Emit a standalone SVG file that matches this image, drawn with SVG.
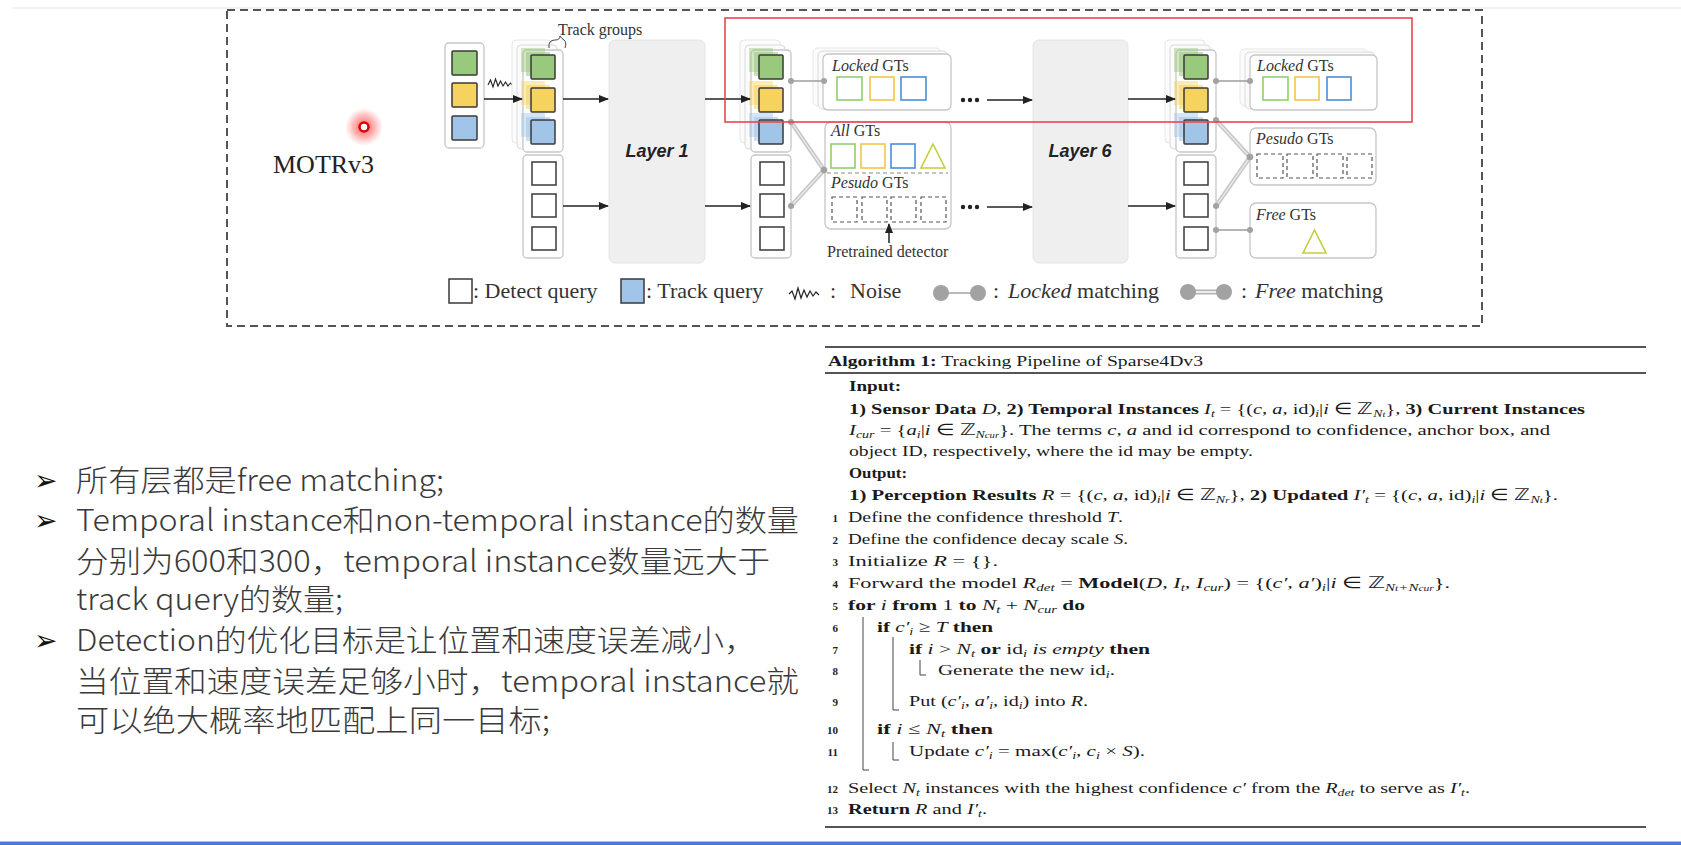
<svg xmlns="http://www.w3.org/2000/svg" width="1681" height="845" viewBox="0 0 1681 845">
<defs>
<style>
.lbl{font-family:"Liberation Serif","Times New Roman",serif;font-size:16px;fill:#333}
.leg{font-family:"Liberation Serif","Times New Roman",serif;font-size:22px;fill:#333}
.layer{font-family:"Liberation Sans",Arial,sans-serif;font-weight:bold;font-style:italic;font-size:18px;fill:#222;text-anchor:middle}
.box{fill:#fff;stroke:#c6c6c6;stroke-width:1.3}
.bk1{fill:#fbfbfb;stroke:#dadada;stroke-width:1}
.bk2{fill:#fcfcfc;stroke:#e6e6e6;stroke-width:1}
.sq{stroke:#3a3a3a;stroke-width:1.5}
.g{fill:#98c97c}.y{fill:#f6d25e}.bl{fill:#a0c5e8}
.det{fill:#fff;stroke:#3a3a3a;stroke-width:1.5}
.gto{fill:none;stroke-width:1.6}
.gg{stroke:#8fcf6e}.gy{stroke:#f4c545}.gb{stroke:#4a8fd8}
.ds{fill:none;stroke:#555;stroke-width:1.2;stroke-dasharray:4 3}
.arr{stroke:#222;stroke-width:1.5;fill:none;marker-end:url(#ah)}
.lk{stroke:#9c9c9c;stroke-width:1.3;fill:none}
.fr{stroke:#c9c9c9;stroke-width:4.5;fill:none}
.fri{stroke:#ececec;stroke-width:1.2;fill:none}
.dot{fill:#a2a2a2}
.layerbox{fill:#efefef;stroke:#e4e4e4;stroke-width:1}
.cn{font-family:"Noto Sans CJK SC","Noto Sans",sans-serif;font-weight:300;font-size:30px;fill:#3a3a3a}
.bul{font-family:"DejaVu Sans",sans-serif;font-size:28px;fill:#111}
.al{font-family:"Liberation Serif","Times New Roman",serif;font-size:15.5px;fill:#1a1a1a}
.b{font-weight:bold}
.i{font-style:italic}
.sub{font-size:10.5px;baseline-shift:-3px}
.num{font-family:"Liberation Serif",serif;font-size:11px;font-weight:bold;fill:#222;text-anchor:end}
.rule{stroke:#555;stroke-width:2}
.bar{stroke:#444;stroke-width:1;fill:none}
</style>
<marker id="ah" markerWidth="10" markerHeight="8" refX="9" refY="4" orient="auto" markerUnits="userSpaceOnUse"><path d="M0,0 L10,4 L0,8 z" fill="#222"/></marker>
<radialGradient id="glow"><stop offset="0" stop-color="#ff2020" stop-opacity="0.75"/><stop offset="0.6" stop-color="#ff4040" stop-opacity="0.35"/><stop offset="1" stop-color="#ff6060" stop-opacity="0"/></radialGradient>
</defs>
<rect width="1681" height="845" fill="#fff"/>
<line x1="12" y1="8" x2="1681" y2="8" stroke="#e4e4e4" stroke-width="1.2"/>
<rect x="0" y="842" width="1681" height="3" fill="#4a78e0"/>
<rect x="0" y="841" width="1681" height="1" fill="#a9c0f0"/>

<!-- outer dashed frame -->
<rect x="227" y="10" width="1255" height="316" fill="none" stroke="#555" stroke-width="2" stroke-dasharray="8 5"/>
<text x="273" y="173" font-family="Liberation Serif,serif" font-size="26" fill="#222">MOTRv3</text>
<g id="pointer"><circle cx="364" cy="127" r="19" fill="url(#glow)"/><circle cx="364" cy="127" r="4.5" fill="#fff" stroke="#e00000" stroke-width="2.6"/></g>

<!-- input queries -->
<g id="input-col">
<rect class="box" x="445" y="43" width="39" height="105" rx="4"/>
<rect class="sq g" x="452" y="51" width="25" height="24" rx="1"/>
<rect class="sq y" x="452" y="83" width="25" height="24" rx="1"/>
<rect class="sq bl" x="452" y="116" width="25" height="24" rx="1"/>
</g>
<path d="M488,85 l2.5,-5 l2.5,7 l2.5,-8 l2.5,7 l2.5,-5 l2.5,5 l2.5,-4 l2.5,4 l2.5,-3 l2.5,3" fill="none" stroke="#222" stroke-width="1.1"/>

<!-- column 1 -->
<g id="col1">
<rect class="bk2" x="512" y="40" width="40" height="103" rx="4"/>
<rect class="bk1" x="517" y="45" width="40" height="104" rx="4"/>
<rect class="box" x="523" y="50" width="40" height="102" rx="4"/>
<rect class="g" x="521" y="48" width="24" height="24" opacity="0.45"/><rect class="g" x="526" y="52" width="24" height="24" opacity="0.55"/>
<rect class="y" x="521" y="81" width="24" height="24" opacity="0.45"/><rect class="y" x="526" y="85" width="24" height="24" opacity="0.55"/>
<rect class="bl" x="521" y="113" width="24" height="24" opacity="0.45"/><rect class="bl" x="526" y="117" width="24" height="24" opacity="0.55"/>
<rect class="sq g" x="531" y="55" width="24" height="24" rx="1"/>
<rect class="sq y" x="531" y="88" width="24" height="24" rx="1"/>
<rect class="sq bl" x="531" y="120" width="24" height="24" rx="1"/>
<rect class="box" x="523" y="155" width="40" height="103" rx="4"/>
<rect class="det" x="532" y="162" width="24" height="23"/>
<rect class="det" x="532" y="194" width="24" height="23"/>
<rect class="det" x="532" y="227" width="24" height="23"/>
</g>
<text class="lbl" x="558" y="35">Track groups</text>
<path d="M549,48 q-1,-8 6,-8 q5,0 5,-4 q2,3 4,4 q3,2 1,8" fill="none" stroke="#444" stroke-width="1"/>

<g id="layer1"><rect class="layerbox" x="609" y="40" width="96" height="223" rx="6"/><text class="layer" x="657" y="157">Layer 1</text></g>

<!-- column 2 -->
<g id="col2">
<rect class="bk2" x="740" y="40" width="40" height="103" rx="4"/>
<rect class="bk1" x="745" y="45" width="40" height="104" rx="4"/>
<rect class="box" x="751" y="50" width="40" height="102" rx="4"/>
<rect class="g" x="749" y="48" width="24" height="24" opacity="0.45"/><rect class="g" x="754" y="52" width="24" height="24" opacity="0.55"/>
<rect class="y" x="749" y="81" width="24" height="24" opacity="0.45"/><rect class="y" x="754" y="85" width="24" height="24" opacity="0.55"/>
<rect class="bl" x="749" y="113" width="24" height="24" opacity="0.45"/><rect class="bl" x="754" y="117" width="24" height="24" opacity="0.55"/>
<rect class="sq g" x="759" y="55" width="24" height="24" rx="1"/>
<rect class="sq y" x="759" y="88" width="24" height="24" rx="1"/>
<rect class="sq bl" x="759" y="120" width="24" height="24" rx="1"/>
<rect class="box" x="751" y="155" width="40" height="103" rx="4"/>
<rect class="det" x="760" y="162" width="24" height="23"/>
<rect class="det" x="760" y="194" width="24" height="23"/>
<rect class="det" x="760" y="227" width="24" height="23"/>
</g>

<g id="locked-gts-1">
<rect class="bk2" x="813" y="48" width="128" height="58" rx="5"/>
<rect class="bk1" x="818" y="51" width="130" height="58" rx="5"/>
<rect class="box" x="823" y="54" width="128" height="56" rx="5"/>
<text class="lbl" x="832" y="71"><tspan class="i">Locked</tspan> GTs</text>
<rect class="gto gg" x="837" y="77" width="25" height="23"/>
<rect class="gto gy" x="870" y="77" width="24" height="23"/>
<rect class="gto gb" x="901" y="77" width="25" height="23"/>
</g>

<g id="all-gts">
<rect class="box" x="825" y="122" width="126" height="107" rx="6"/>
<text class="lbl" x="831" y="136"><tspan class="i">All</tspan> GTs</text>
<rect class="gto gg" x="831" y="144" width="24" height="24"/>
<rect class="gto gy" x="861" y="144" width="24" height="24"/>
<rect class="gto gb" x="891" y="144" width="24" height="24"/>
<path class="gto" d="M933,144 L945,168 L921,168 Z" stroke="#c6cc3e"/>
<line x1="827" y1="173" x2="948" y2="173" stroke="#888" stroke-width="1" stroke-dasharray="4 3"/>
<text class="lbl" x="831" y="188"><tspan class="i">Pesudo</tspan> GTs</text>
<rect class="ds" x="832" y="197" width="25" height="25"/>
<rect class="ds" x="862" y="197" width="25" height="25"/>
<rect class="ds" x="891" y="197" width="25" height="25"/>
<rect class="ds" x="921" y="197" width="25" height="25"/>
</g>
<text class="lbl" x="827" y="257">Pretrained detector</text>

<g id="layer6"><rect class="layerbox" x="1033" y="40" width="95" height="223" rx="6"/><text class="layer" x="1080" y="157">Layer 6</text></g>

<!-- column 3 -->
<g id="col3">
<rect class="bk2" x="1165" y="40" width="40" height="103" rx="4"/>
<rect class="bk1" x="1170" y="45" width="40" height="104" rx="4"/>
<rect class="box" x="1176" y="50" width="40" height="102" rx="4"/>
<rect class="g" x="1174" y="48" width="24" height="24" opacity="0.45"/><rect class="g" x="1179" y="52" width="24" height="24" opacity="0.55"/>
<rect class="y" x="1174" y="81" width="24" height="24" opacity="0.45"/><rect class="y" x="1179" y="85" width="24" height="24" opacity="0.55"/>
<rect class="bl" x="1174" y="113" width="24" height="24" opacity="0.45"/><rect class="bl" x="1179" y="117" width="24" height="24" opacity="0.55"/>
<rect class="sq g" x="1184" y="55" width="24" height="24" rx="1"/>
<rect class="sq y" x="1184" y="88" width="24" height="24" rx="1"/>
<rect class="sq bl" x="1184" y="120" width="24" height="24" rx="1"/>
<rect class="box" x="1176" y="155" width="40" height="103" rx="4"/>
<rect class="det" x="1184" y="162" width="24" height="23"/>
<rect class="det" x="1184" y="194" width="24" height="23"/>
<rect class="det" x="1184" y="227" width="24" height="23"/>
</g>

<g id="locked-gts-2">
<rect class="bk2" x="1240" y="49" width="128" height="57" rx="5"/>
<rect class="bk1" x="1245" y="52" width="130" height="57" rx="5"/>
<rect class="box" x="1250" y="55" width="127" height="55" rx="5"/>
<text class="lbl" x="1257" y="71"><tspan class="i">Locked</tspan> GTs</text>
<rect class="gto gg" x="1263" y="77" width="25" height="23"/>
<rect class="gto gy" x="1295" y="77" width="24" height="23"/>
<rect class="gto gb" x="1327" y="77" width="24" height="23"/>
</g>
<g id="pesudo-gts">
<rect class="box" x="1250" y="128" width="126" height="57" rx="6"/>
<text class="lbl" x="1256" y="144"><tspan class="i">Pesudo</tspan> GTs</text>
<rect class="ds" x="1257" y="154" width="26" height="24"/>
<rect class="ds" x="1287" y="154" width="26" height="24"/>
<rect class="ds" x="1317" y="154" width="26" height="24"/>
<rect class="ds" x="1347" y="154" width="25" height="24"/>
</g>
<g id="free-gts">
<rect class="box" x="1250" y="203" width="126" height="55" rx="6"/>
<text class="lbl" x="1256" y="220"><tspan class="i">Free</tspan> GTs</text>
<path class="gto" d="M1314.5,230 L1326,253 L1303,253 Z" stroke="#c6cc3e"/>
</g>

<!-- connectors -->
<g id="connectors">
<line class="arr" x1="484" y1="99" x2="522" y2="99"/>
<line class="arr" x1="563" y1="99" x2="608" y2="99"/>
<line class="arr" x1="563" y1="206" x2="608" y2="206"/>
<line class="arr" x1="705" y1="99" x2="750" y2="99"/>
<line class="arr" x1="705" y1="206" x2="750" y2="206"/>
<line class="arr" x1="987" y1="100" x2="1032" y2="100"/>
<line class="arr" x1="987" y1="207" x2="1032" y2="207"/>
<line class="arr" x1="1128" y1="99" x2="1175" y2="99"/>
<line class="arr" x1="1128" y1="206" x2="1175" y2="206"/>
<line class="arr" x1="889" y1="243" x2="889" y2="224"/>
<g fill="#222"><circle cx="963" cy="100" r="2.2"/><circle cx="970" cy="100" r="2.2"/><circle cx="977" cy="100" r="2.2"/><circle cx="963" cy="207" r="2.2"/><circle cx="970" cy="207" r="2.2"/><circle cx="977" cy="207" r="2.2"/></g>
<line class="lk" x1="791" y1="81" x2="824" y2="81"/>
<circle class="dot" cx="791" cy="81" r="3"/><circle class="dot" cx="824" cy="81" r="3"/>
<path class="fr" d="M791,122 L824,170 L791,206"/>
<path class="fri" d="M791,122 L824,170 L791,206"/>
<circle class="dot" cx="791" cy="122" r="3"/><circle class="dot" cx="824" cy="170" r="3.3"/><circle class="dot" cx="791" cy="206" r="3"/>
<line class="lk" x1="1216" y1="81" x2="1250" y2="81"/>
<circle class="dot" cx="1216" cy="81" r="3"/><circle class="dot" cx="1250" cy="81" r="3"/>
<path class="fr" d="M1216,120 L1250,157 L1216,206"/>
<path class="fri" d="M1216,120 L1250,157 L1216,206"/>
<circle class="dot" cx="1216" cy="120" r="3"/><circle class="dot" cx="1250" cy="157" r="3.3"/><circle class="dot" cx="1216" cy="206" r="3"/>
<line class="lk" x1="1216" y1="230" x2="1250" y2="230"/>
<circle class="dot" cx="1216" cy="230" r="3"/><circle class="dot" cx="1250" cy="230" r="3"/>
</g>

<!-- red highlight -->
<rect x="725" y="18" width="687" height="104" fill="none" stroke="#e8474d" stroke-width="1.6"/>

<!-- legend -->
<g id="legend">
<rect class="det" x="449" y="279" width="23" height="24"/>
<text class="leg" x="473" y="298">: Detect query</text>
<rect class="sq bl" x="621" y="279" width="23" height="24"/>
<text class="leg" x="646" y="298">: Track query</text>
<path d="M789,294 l3,-3 l3,8 l3,-11 l3,10 l3,-8 l3,7 l3,-6 l3,5 l3,-4 l3,3" fill="none" stroke="#222" stroke-width="1.2"/>
<text class="leg" x="830" y="298">:</text>
<text class="leg" x="850" y="298">Noise</text>
<line x1="941" y1="293" x2="978" y2="293" stroke="#a2a2a2" stroke-width="1.5"/>
<circle class="dot" cx="941" cy="293" r="8"/><circle class="dot" cx="978" cy="293" r="8"/>
<text class="leg" x="993" y="298">:</text>
<text class="leg" x="1008" y="298"><tspan class="i">Locked</tspan> matching</text>
<line x1="1188" y1="292" x2="1224" y2="292" stroke="#b4b4b4" stroke-width="5"/>
<line x1="1188" y1="292" x2="1224" y2="292" stroke="#fff" stroke-width="1.4"/>
<circle class="dot" cx="1188" cy="292" r="8"/><circle class="dot" cx="1224" cy="292" r="8"/>
<text class="leg" x="1241" y="298">:</text>
<text class="leg" x="1255" y="298"><tspan class="i">Free</tspan> matching</text>
</g>

<!-- bullets -->
<g id="bullets">
<text class="bul" x="34" y="490">➢</text>
<text class="bul" x="34" y="530">➢</text>
<text class="bul" x="34" y="650">➢</text>
<text class="cn" x="76" y="491" textLength="368" lengthAdjust="spacingAndGlyphs">所有层都是free matching;</text>
<text class="cn" x="76" y="531" textLength="723" lengthAdjust="spacingAndGlyphs">Temporal instance和non-temporal instance的数量</text>
<text class="cn" x="76" y="572" textLength="694" lengthAdjust="spacingAndGlyphs">分别为600和300，temporal instance数量远大于</text>
<text class="cn" x="76" y="610" textLength="267" lengthAdjust="spacingAndGlyphs">track query的数量;</text>
<text class="cn" x="76" y="651" textLength="680" lengthAdjust="spacingAndGlyphs">Detection的优化目标是让位置和速度误差减小，</text>
<text class="cn" x="76" y="692" textLength="723" lengthAdjust="spacingAndGlyphs">当位置和速度误差足够小时，temporal instance就</text>
<text class="cn" x="76" y="731" textLength="474" lengthAdjust="spacingAndGlyphs">可以绝大概率地匹配上同一目标;</text>
</g>

<!-- algorithm -->
<g id="algorithm">
<line class="rule" x1="825" y1="347" x2="1646" y2="347"/>
<line class="rule" x1="825" y1="373" x2="1646" y2="373" stroke-width="1.5"/>
<line class="rule" x1="825" y1="827" x2="1646" y2="827"/>
<text class="al" x="828" y="366" textLength="375" lengthAdjust="spacingAndGlyphs"><tspan class="b">Algorithm 1:</tspan> Tracking Pipeline of Sparse4Dv3</text>
<text class="al b" x="849" y="391" textLength="52" lengthAdjust="spacingAndGlyphs">Input:</text>
<text class="al" x="849" y="414" textLength="736" lengthAdjust="spacingAndGlyphs"><tspan class="b">1) Sensor Data</tspan> <tspan class="i">D</tspan>, <tspan class="b">2) Temporal Instances</tspan> <tspan class="i">I</tspan><tspan class="sub i">t</tspan> = {(<tspan class="i">c</tspan>, <tspan class="i">a</tspan>, id)<tspan class="sub i">i</tspan>|<tspan class="i">i</tspan> ∈ ℤ<tspan class="sub i">N<tspan font-size="8">t</tspan></tspan>}, <tspan class="b">3) Current Instances</tspan></text>
<text class="al" x="849" y="435" textLength="701" lengthAdjust="spacingAndGlyphs"><tspan class="i">I</tspan><tspan class="sub i">cur</tspan> = {<tspan class="i">a</tspan><tspan class="sub i">i</tspan>|<tspan class="i">i</tspan> ∈ ℤ<tspan class="sub i">N<tspan font-size="8">cur</tspan></tspan>}. The terms <tspan class="i">c</tspan>, <tspan class="i">a</tspan> and id correspond to confidence, anchor box, and</text>
<text class="al" x="849" y="456" textLength="404" lengthAdjust="spacingAndGlyphs">object ID, respectively, where the id may be empty.</text>
<text class="al b" x="849" y="478" textLength="58" lengthAdjust="spacingAndGlyphs">Output:</text>
<text class="al" x="849" y="500" textLength="709" lengthAdjust="spacingAndGlyphs"><tspan class="b">1) Perception Results</tspan> <tspan class="i">R</tspan> = {(<tspan class="i">c</tspan>, <tspan class="i">a</tspan>, id)<tspan class="sub i">i</tspan>|<tspan class="i">i</tspan> ∈ ℤ<tspan class="sub i">N<tspan font-size="8">r</tspan></tspan>}, <tspan class="b">2) Updated</tspan> <tspan class="i">I′</tspan><tspan class="sub i">t</tspan> = {(<tspan class="i">c</tspan>, <tspan class="i">a</tspan>, id)<tspan class="sub i">i</tspan>|<tspan class="i">i</tspan> ∈ ℤ<tspan class="sub i">N<tspan font-size="8">t</tspan></tspan>}.</text>

<text class="num" x="838" y="522">1</text>
<text class="al" x="848" y="522" textLength="275" lengthAdjust="spacingAndGlyphs">Define the confidence threshold <tspan class="i">T</tspan>.</text>
<text class="num" x="838" y="544">2</text>
<text class="al" x="848" y="544" textLength="280" lengthAdjust="spacingAndGlyphs">Define the confidence decay scale <tspan class="i">S</tspan>.</text>
<text class="num" x="838" y="566">3</text>
<text class="al" x="848" y="566" textLength="150" lengthAdjust="spacingAndGlyphs">Initialize <tspan class="i">R</tspan> = {}.</text>
<text class="num" x="838" y="588">4</text>
<text class="al" x="848" y="588" textLength="602" lengthAdjust="spacingAndGlyphs">Forward the model <tspan class="i">R</tspan><tspan class="sub i">det</tspan> = <tspan class="b">Model</tspan>(<tspan class="i">D</tspan>, <tspan class="i">I</tspan><tspan class="sub i">t</tspan>, <tspan class="i">I</tspan><tspan class="sub i">cur</tspan>) = {(<tspan class="i">c′</tspan>, <tspan class="i">a′</tspan>)<tspan class="sub i">i</tspan>|<tspan class="i">i</tspan> ∈ ℤ<tspan class="sub i">N<tspan font-size="8">t</tspan>+N<tspan font-size="8">cur</tspan></tspan>}.</text>
<text class="num" x="838" y="610">5</text>
<text class="al" x="848" y="610" textLength="237" lengthAdjust="spacingAndGlyphs"><tspan class="b">for</tspan> <tspan class="i">i</tspan> <tspan class="b">from</tspan> 1 <tspan class="b">to</tspan> <tspan class="i">N</tspan><tspan class="sub i">t</tspan> + <tspan class="i">N</tspan><tspan class="sub i">cur</tspan> <tspan class="b">do</tspan></text>
<text class="num" x="838" y="632">6</text>
<text class="al" x="877" y="632" textLength="116" lengthAdjust="spacingAndGlyphs"><tspan class="b">if</tspan> <tspan class="i">c′</tspan><tspan class="sub i">i</tspan> ≥ <tspan class="i">T</tspan> <tspan class="b">then</tspan></text>
<text class="num" x="838" y="654">7</text>
<text class="al" x="909" y="654" textLength="241" lengthAdjust="spacingAndGlyphs"><tspan class="b">if</tspan> <tspan class="i">i</tspan> &gt; <tspan class="i">N</tspan><tspan class="sub i">t</tspan> <tspan class="b">or</tspan> id<tspan class="sub i">i</tspan> <tspan class="i">is empty</tspan> <tspan class="b">then</tspan></text>
<text class="num" x="838" y="675">8</text>
<text class="al" x="938" y="675" textLength="177" lengthAdjust="spacingAndGlyphs">Generate the new id<tspan class="sub i">i</tspan>.</text>
<text class="num" x="838" y="706">9</text>
<text class="al" x="909" y="706" textLength="179" lengthAdjust="spacingAndGlyphs">Put (<tspan class="i">c′</tspan><tspan class="sub i">i</tspan>, <tspan class="i">a′</tspan><tspan class="sub i">i</tspan>, id<tspan class="sub i">i</tspan>) into <tspan class="i">R</tspan>.</text>
<text class="num" x="838" y="734">10</text>
<text class="al" x="877" y="734" textLength="116" lengthAdjust="spacingAndGlyphs"><tspan class="b">if</tspan> <tspan class="i">i</tspan> ≤ <tspan class="i">N</tspan><tspan class="sub i">t</tspan> <tspan class="b">then</tspan></text>
<text class="num" x="838" y="756">11</text>
<text class="al" x="909" y="756" textLength="236" lengthAdjust="spacingAndGlyphs">Update <tspan class="i">c′</tspan><tspan class="sub i">i</tspan> = max(<tspan class="i">c′</tspan><tspan class="sub i">i</tspan>, <tspan class="i">c</tspan><tspan class="sub i">i</tspan> × <tspan class="i">S</tspan>).</text>
<text class="num" x="838" y="793">12</text>
<text class="al" x="848" y="793" textLength="622" lengthAdjust="spacingAndGlyphs">Select <tspan class="i">N</tspan><tspan class="sub i">t</tspan> instances with the highest confidence <tspan class="i">c′</tspan> from the <tspan class="i">R</tspan><tspan class="sub i">det</tspan> to serve as <tspan class="i">I′</tspan><tspan class="sub i">t</tspan>.</text>
<text class="num" x="838" y="814">13</text>
<text class="al" x="848" y="814" textLength="139" lengthAdjust="spacingAndGlyphs"><tspan class="b">Return</tspan> <tspan class="i">R</tspan> and <tspan class="i">I′</tspan><tspan class="sub i">t</tspan>.</text>
<path class="bar" d="M863,617 V770 H869"/>
<path class="bar" d="M893,637 V710 H899"/>
<path class="bar" d="M920,660 V675 H926"/>
<path class="bar" d="M893,742 V760 H899"/>
</g>
</svg>
